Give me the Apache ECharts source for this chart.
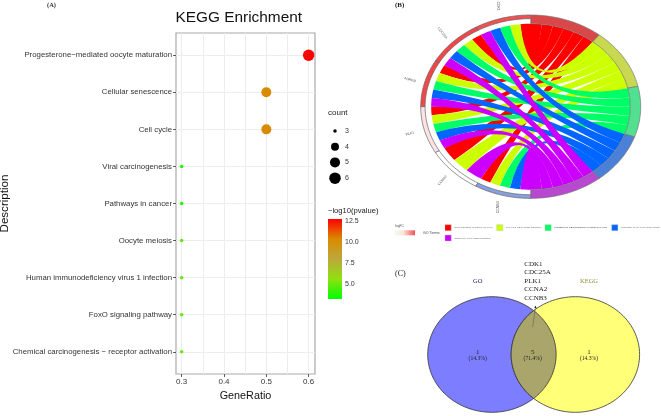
<!DOCTYPE html>
<html><head><meta charset="utf-8">
<style>html,body{margin:0;background:#fff}#c{width:661px;height:416px}</style>
<script src="https://cdn.jsdelivr.net/npm/echarts@6/dist/echarts.min.js"></script></head>
<body><div id="c"></div>
<script>
// Panel A
const pathways = ['Chemical carcinogenesis \u2212 receptor activation','FoxO signaling pathway','Human immunodeficiency virus 1 infection','Oocyte meiosis','Pathways in cancer','Viral carcinogenesis','Cell cycle','Cellular senescence','Progesterone\u2212mediated oocyte maturation'];
const geneRatio = [0.3,0.3,0.3,0.3,0.3,0.3,0.5,0.5,0.6];
const counts = [3,3,3,3,3,3,5,5,6];
const logP = [4.9,4.9,4.9,4.9,3.8,3.8,10.3,10.3,12.7];
const sizeLegend = [3,4,5,6];
const colorTicks = [5,7.5,10,12.5];
const colorStops = ['#00ff00','#90e010','#bda83c','#d98a00','#ff0000'];
// Panel B
const genes = ['CDK1','CDC25A','AURKB','PLK1','CCNA2','CCNB3'];
const geneFC = [0.95,1,1,0.15,0,-0.65];
const geneLabelAngle = [-90,-50,-15,15,50,90];
const terms = ['G2/M transition of mitotic cell cycle','cell cycle G2/M phase transition','regulation of G2/M transition of mitotic cell cycle','regulation of cell cycle G2/M phase','mitotic cell cycle phase transition'];
const termColors = ['#ff0000','#ccff00','#00ff66','#0066ff','#cc00ff'];
const termRingColors = ['#d94848','#c8d850','#50e090','#4a80d8','#b848d0'];
const links = [
 [1,1,1,1,1],
 [1,1,1,1,1],
 [1,1,1,1,1],
 [1,1,1,1,1],
 [1,1,0,0,1],
 [1,1,1,1,1]
];
// Panel C
const vennLabels = ['GO','KEGG'];
const vennCounts = [1,5,1];
const vennPct = ['(14.3%)','(71.4%)','(14.3%)'];
const sharedGenes = ['CDK1','CDC25A','PLK1','CCNA2','CCNB3'];

function sizeOf(c){ return {3:3.5,4:8,5:10,6:11.5}[c]; }
function fcColor(v){
  const mix=(a,b,t)=>a.map((x,i)=>Math.round(x+(b[i]-x)*t));
  const c = v>=0 ? mix([255,255,255],[242,70,72],v) : mix([255,255,255],[70,110,205],-v);
  return 'rgb('+c.join(',')+')';
}

const R_IN = 0.905, R_GENE_IN = 0.96, DEG = Math.PI/180;
const nLinksTotal = links.flat().reduce((a,b)=>a+b,0);
const termCounts = terms.map((_,t)=>links.reduce((s,r)=>s+r[t],0));
const termStep = 180/nLinksTotal;
const termStart = []; { let a=0; termCounts.forEach(c=>{termStart.push(a); a+=c*termStep;}); }
const geneStep = 180/genes.length;
const pt=(deg,r)=>[r*Math.sin(deg*DEG), r*Math.cos(deg*DEG)];
const chordLinks=[];
terms.forEach((_,t)=>{
  let slot=0;
  genes.forEach((_,g)=>{
    if(!links[g][t]) return;
    const n=links[g].reduce((a,b)=>a+b,0);
    const idx=links[g].slice(0,t).reduce((a,b)=>a+b,0);
    const w=geneStep/n;
    chordLinks.push({t, ga0:-(g*geneStep+idx*w), ga1:-(g*geneStep+(idx+1)*w), ta0:termStart[t]+slot*termStep, ta1:termStart[t]+(slot+1)*termStep});
    slot++;
  });
});
function arcPts(a0,a1,r,api){
  const out=[]; const n=Math.max(2,Math.ceil(Math.abs(a1-a0)/1.5));
  for(let i=0;i<=n;i++) out.push(api.coord(pt(a0+(a1-a0)*i/n,r)));
  return out;
}
function pathFrom(parts){
  return parts.map((p,i)=>(i?'L':'M')+p[0].toFixed(2)+' '+p[1].toFixed(2)).join(' ');
}
function ringItem(a0,a1,r0,r1,fill,stroke,api){
  const o=arcPts(a0,a1,r1,api), i=arcPts(a1,a0,r0,api);
  return {type:'path',shape:{pathData:pathFrom(o.concat(i))+' Z'},style:{fill:fill,stroke:stroke,lineWidth:0.7}};
}
function renderChord(params,api){
  const kids=[];
  const f=p=>p[0].toFixed(2)+' '+p[1].toFixed(2);
  const ctl=api.coord([0,0]);
  chordLinks.forEach(l=>{
    const g0=arcPts(l.ga1,l.ga0,R_IN,api), t0=arcPts(l.ta0,l.ta1,R_IN,api);
    const s=pathFrom(g0)+' Q'+f(ctl)+' '+f(t0[0])+' '+pathFrom(t0).replace(/^M/,'L')+' Q'+f(ctl)+' '+f(g0[0])+' Z';
    kids.push({type:'path',shape:{pathData:s},style:{fill:termColors[l.t],stroke:null}});
  });
  genes.forEach((_,g)=>{
    kids.push(ringItem(-g*geneStep,-(g+1)*geneStep,R_GENE_IN,1,fcColor(geneFC[g]),'#666',api));
    const mid=-(g+0.5)*geneStep, p=api.coord(pt(mid,1.136));
    kids.push({type:'text',x:p[0],y:p[1],rotation:geneLabelAngle[g]*DEG,style:{text:genes[g],fill:'#555',font:'3.5px "Liberation Sans"',align:'center',verticalAlign:'middle'}});
  });
  terms.forEach((_,t)=>{
    const a0=termStart[t], a1=a0+termCounts[t]*termStep;
    kids.push(ringItem(a0,a1,R_IN,1,termRingColors[t],'#777',api));
  });
  return {type:'group',children:kids};
}
function renderBar(params,api){
  const a=api.coord([0,12.7]), b=api.coord([1,3.3]);
  return {type:'rect',shape:{x:a[0],y:a[1],width:b[0]-a[0],height:b[1]-a[1]},
    style:{fill:new echarts.graphic.LinearGradient(0,1,0,0,colorStops.map((c,i)=>({offset:i/(colorStops.length-1),color:c})))}};
}
const VENN_CX=0.65;
function renderVenn(params,api){
  const ell=(cx,n)=>{const o=[];for(let i=0;i<=n;i++){const a=i/n*2*Math.PI;o.push(api.coord([cx+Math.cos(a),Math.sin(a)]));}return pathFrom(o)+' Z';};
  const theta=Math.acos(VENN_CX);
  const lens=[];
  for(let i=0;i<=60;i++){const a=-theta+2*theta*i/60; lens.push(api.coord([-VENN_CX+Math.cos(a),Math.sin(a)]));}
  for(let i=0;i<=60;i++){const a=Math.PI-theta+2*theta*i/60; lens.push(api.coord([VENN_CX+Math.cos(a),Math.sin(a)]));}
  return {type:'group',children:[
    {type:'path',shape:{pathData:ell(-VENN_CX,120)},style:{fill:'#7d7dff',stroke:'#333',lineWidth:0.8}},
    {type:'path',shape:{pathData:ell(VENN_CX,120)},style:{fill:'#ffff78',stroke:'#333',lineWidth:0.8}},
    {type:'path',shape:{pathData:pathFrom(lens)+' Z'},style:{fill:'#a9a56b',stroke:'#333',lineWidth:0.8}}
  ]};
}
const serif='"Liberation Serif"';
const sans='"Liberation Sans"';
const chart=echarts.init(document.getElementById('c'),null,{renderer:'canvas'});
const P={l:176,t:33,w:139,h:341};
const tickStyle={show:true,length:3,lineStyle:{color:'#333',width:0.8}};
const legendPos=[[445,224.7],[496.7,224.7],[545,224.7],[611.7,224.7],[445,235]];
const legendItems=terms.flatMap((t,i)=>[
  {type:'rect',z:100,shape:{x:legendPos[i][0],y:legendPos[i][1],width:6.2,height:6},style:{fill:termColors[i],stroke:'#bbb',lineWidth:0.4}},
  {type:'text',z:100,x:legendPos[i][0]+9.3,y:legendPos[i][1]+3,style:{text:t,font:'2.5px '+sans,fill:i==2?'#335':'#666',verticalAlign:'middle'}}
]);
const fixedText=(x,y,text,font,fill)=>({type:'text',z:100,x:x,y:y,style:{text:text,font:font,fill:fill,verticalAlign:'middle'}});
chart.setOption({
  animation:false,
  backgroundColor:'#fff',
  title:{text:'KEGG Enrichment',left:175.5,top:10.5,padding:0,textStyle:{fontFamily:'Liberation Sans',fontSize:15.4,fontWeight:'normal',color:'#111'}},
  grid:[
    {left:P.l,top:P.t,width:P.w,height:P.h,show:true,borderColor:'#aaa',borderWidth:1.2,backgroundColor:'#fff',outerBoundsMode:'none'},
    {left:328,top:219,width:14,height:80,outerBoundsMode:'none'},
    {left:328,top:123,width:14,height:63,outerBoundsMode:'none'},
    {left:420.7,top:15,width:220,height:183.4,outerBoundsMode:'none'},
    {left:427.7,top:296.7,width:211.9,height:115.6,outerBoundsMode:'none'}
  ],
  xAxis:[
    {gridIndex:0,type:'value',min:0.2866,max:0.615,axisLine:{show:false},axisTick:{show:false,customValues:[0.3,0.35,0.4,0.45,0.5,0.55,0.6]},axisLabel:{show:false},splitLine:{show:true,lineStyle:{color:'#ededed',width:1}}},
    {gridIndex:0,type:'value',min:0.2866,max:0.615,position:'bottom',axisLine:{show:false},axisTick:Object.assign({customValues:[0.3,0.4,0.5,0.6]},tickStyle),axisLabel:{customValues:[0.3,0.4,0.5,0.6],formatter:v=>v.toFixed(1),fontFamily:'Liberation Sans',fontSize:8,color:'#333',margin:4},splitLine:{show:false},name:'GeneRatio',nameLocation:'middle',nameGap:15,nameTextStyle:{fontFamily:'Liberation Sans',fontSize:10.8,color:'#111'}},
    {gridIndex:1,type:'value',min:0,max:1,show:false},
    {gridIndex:2,type:'value',min:0,max:1,show:false},
    {gridIndex:3,type:'value',min:-1,max:1,show:false},
    {gridIndex:4,type:'value',min:-1,max:1,show:false},
    {gridIndex:4,type:'value',min:-1.65,max:1.65,show:false}
  ].slice(0,5).concat([{gridIndex:4,type:'value',min:-1.65,max:1.65,show:false}]),
  yAxis:[
    {gridIndex:0,type:'value',min:-0.6,max:8.6,axisLine:{show:false},axisTick:Object.assign({customValues:pathways.map((_,i)=>i)},tickStyle),axisLabel:{customValues:pathways.map((_,i)=>i),formatter:v=>pathways[Math.round(v)],fontFamily:'Liberation Sans',fontSize:7.8,color:'#333',margin:4},splitLine:{show:true,lineStyle:{color:'#ededed',width:1}},name:'Description',nameLocation:'middle',nameGap:165,nameMoveOverlap:false,nameTextStyle:{fontFamily:'Liberation Sans',fontSize:11.6,color:'#111'}},
    {gridIndex:1,type:'value',position:'right',min:3.3,max:12.7,z:6,axisLine:{show:false},axisTick:{show:true,inside:true,length:3,lineStyle:{color:'#fff',width:0.6},customValues:colorTicks},splitLine:{show:false},axisLabel:{customValues:colorTicks,formatter:v=>v.toFixed(1),fontFamily:'Liberation Sans',fontSize:7,color:'#333',margin:3}},
    {gridIndex:2,type:'value',position:'right',inverse:true,min:2.5,max:6.5,axisLine:{show:false},axisTick:{show:false,customValues:sizeLegend},splitLine:{show:false},axisLabel:{customValues:sizeLegend,formatter:v=>String(v),fontFamily:'Liberation Sans',fontSize:7,color:'#333',margin:3}},
    {gridIndex:3,type:'value',min:-1,max:1,show:false},
    {gridIndex:4,type:'value',min:-1,max:1,show:false}
  ],
  visualMap:[{type:'continuous',show:false,seriesIndex:0,dimension:3,min:3.3,max:12.7,inRange:{color:colorStops}}],
  series:[
    {type:'scatter',xAxisIndex:1,yAxisIndex:0,data:pathways.map((_,i)=>[geneRatio[i],i,counts[i],logP[i]]),symbolSize:d=>sizeOf(d[2]),itemStyle:{opacity:1},z:5},
    {type:'scatter',xAxisIndex:3,yAxisIndex:2,data:sizeLegend.map(c=>[0.5,c]),symbolSize:d=>sizeOf(d[1]),itemStyle:{color:'#000',opacity:1}},
    {type:'custom',xAxisIndex:4,yAxisIndex:3,data:[[0,0]],renderItem:renderChord,clip:false,silent:true},
    {type:'custom',xAxisIndex:5,yAxisIndex:4,data:[[0,0]],renderItem:renderVenn,clip:false,silent:true},
    {type:'custom',xAxisIndex:2,yAxisIndex:1,data:[[0,0]],renderItem:renderBar,clip:false,silent:true,z:1}
  ],
  graphic:{elements:[
    fixedText(328,113,'count','8px '+sans,'#222'),
    fixedText(328,211,'\u2212log10(pvalue)','7.6px '+sans,'#222'),
    fixedText(47,5,'(A)','bold 6.5px '+serif,'#333'),
    fixedText(395,5,'(B)','bold 7px '+serif,'#222'),
    fixedText(395,274.3,'(C)','8px '+serif,'#222'),
    fixedText(473,281.7,vennLabels[0],'6.5px '+serif,'#22227a'),
    fixedText(580,281.7,vennLabels[1],'6.5px '+serif,'#8f8f3a'),
    {type:'text',z:100,x:524.3,y:260,style:{text:sharedGenes.join('\n'),font:'7px '+serif,fill:'#222',lineHeight:8.4}},
    {type:'line',z:100,shape:{x1:532.7,y1:327,x2:535.3,y2:308},style:{stroke:'#555',lineWidth:0.5}},
    {type:'polygon',z:100,shape:{points:[[535.5,305.5],[534.3,308],[536.5,308]]},style:{fill:'#222'}},
    fixedText(395,225.7,'logFC','3.4px '+sans,'#555'),
    fixedText(423,233,'GO Terms:','3.6px '+sans,'#444'),
    {type:'rect',z:100,shape:{x:395,y:230.3,width:20,height:5},style:{fill:new echarts.graphic.LinearGradient(0,0,1,0,[{offset:0,color:'#eefaf5'},{offset:0.4,color:'#fde8dc'},{offset:1,color:'#f25050'}])}}
  ].concat(legendItems).concat(vennCounts.flatMap((c,i)=>{
    const x=[477.7,532.7,589][i];
    return [
      {type:'text',z:100,x:x,y:352.3,style:{text:String(c),font:'7px '+serif,fill:'#222',align:'center',verticalAlign:'middle'}},
      {type:'text',z:100,x:x,y:358.3,style:{text:vennPct[i],font:'5.6px '+serif,fill:'#222',align:'center',verticalAlign:'middle'}}
    ];
  }))}
});
</script></body></html>
